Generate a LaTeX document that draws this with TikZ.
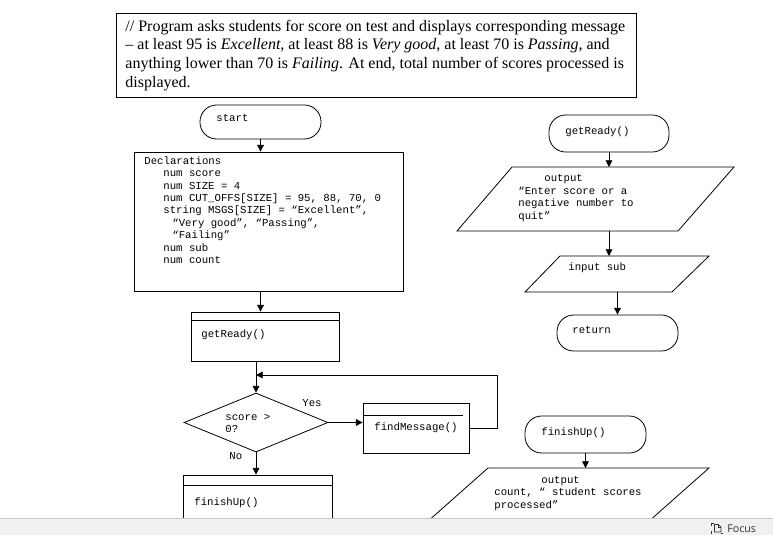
\documentclass[tikz,border=0pt]{standalone}
\usepackage{fontspec}
\setmainfont{Liberation Serif}
\newfontfamily\monof{Liberation Mono}
\newfontfamily\uif{Open Sans}
\usetikzlibrary{arrows.meta,shapes.geometric}
\definecolor{barbg}{HTML}{F0F0F0}
\definecolor{barline}{HTML}{C8C8C8}
\definecolor{uitext}{HTML}{333333}
\newcommand\ia{\hspace*{14.25pt}}
\newcommand\ib{\hspace*{21pt}}
\begin{document}
\begin{tikzpicture}[x=0.75pt,y=-0.75pt,line width=0.6pt,
  arr/.style={-{Triangle[length=5pt,width=5pt]}},
  shp/.style={draw,inner sep=0pt,line width=0.6pt},
  term/.style={shp,rounded corners=12.5pt},
  code/.style={font=\monof\fontsize{8}{9.3}\selectfont,inner sep=0pt,anchor=base west,align=left},
  note/.style={font=\fontsize{12}{14}\selectfont,inner sep=0pt,anchor=base west,align=left}]
\useasboundingbox (0,0) rectangle (773,535);
\fill[white] (0,0) rectangle (773,535);

% header comment (multi-line nodes are anchored at the baseline of their last line)
\node[shp,minimum width=390pt,minimum height=63pt] (hdr) at (376,55) {};
\node[note] (hdrtxt) at (125,87) {// Program asks students for score on test and displays corresponding message\\
– at least 95 is \textit{Excellent}, at least 88 is \textit{Very good}, at least 70 is \textit{Passing}, and\\
anything lower than 70 is \textit{Failing}. At end, total number of scores processed is\\
displayed.};

% main line
\node[term,minimum width=90.75pt,minimum height=25.5pt] (start) at (260.5,122) {};
\node[code] (starttxt) at (216,121.5) {start};

\node[shp,minimum width=201.75pt,minimum height=104.25pt] (decl) at (268.5,221.5) {};
\node[code] (decltxt) at (144,263.5) {Declarations\\
\ia num score\\
\ia num SIZE = 4\\
\ia num CUT\_OFFS[SIZE] = 95, 88, 70, 0\\
\ia string MSGS[SIZE] = “Excellent”,\\
\ib “Very good”, “Passing”,\\
\ib “Failing”\\
\ia num sub\\
\ia num count};

\node[shp,minimum width=111pt,minimum height=36.75pt] (gr) at (265,336.5) {};
\draw ([yshift=-6.75pt]gr.north west) -- ([yshift=-6.75pt]gr.north east);
\node[code] (grtxt) at (201,337.5) {getReady()};

\node[shp,diamond,minimum width=108pt,minimum height=44.25pt] (dia) at (256,422.5) {};
\node[code] (diatxt) at (225,432.5) {score >\\0?};
\node[code] (yes) at (302,406.5) {Yes};
\node[code] (no) at (229,459.5) {No};

\node[shp,minimum width=79.5pt,minimum height=37.5pt] (fm) at (416,428) {};
\draw ([yshift=-9.75pt]fm.north west) -- ([yshift=-9.75pt,xshift=-4.5pt]fm.north east);
\node[code] (fmtxt) at (374,430.5) {findMessage()};

\node[shp,minimum width=111.75pt,minimum height=41.25pt] (fin) at (257.5,502.5) {};
\draw ([yshift=-8.25pt]fin.north west) -- ([yshift=-8.25pt]fin.north east);
\node[code] (fintxt) at (194,505.5) {finishUp()};

\coordinate (loopR) at (497,375);
\coordinate (join) at (dia.north |- loopR);

\draw[arr] (start.south) -- (start.south |- decl.north);
\draw[arr] (start.south |- decl.south) -- (start.south |- gr.north);
\draw[arr] (dia.north |- gr.south) -- (dia.north);
\draw[arr] (fm.east) -| (loopR) -- (join);
\draw[arr] (dia.east) -- (dia.east -| fm.west);
\draw[arr] (dia.south) -- (dia.south |- fin.north);

% getReady module
\node[term,minimum width=90pt,minimum height=27.75pt] (rgr) at (609,133.5) {};
\node[code] (rgrtxt) at (565,134.5) {getReady()};

\coordinate (p1a) at (457,231);
\coordinate (p1b) at (512,167);
\coordinate (p1c) at (734,167);
\coordinate (p1d) at (678,231);
\draw (p1a) -- (p1b) -- (p1c) -- (p1d) -- cycle;
\node[code] (p1txt) at (518,219) {\hspace*{19.5pt}output\\“Enter score or a\\negative number to\\quit”};

\coordinate (p2a) at (525,292);
\coordinate (p2b) at (560,256);
\coordinate (p2c) at (709,256);
\coordinate (p2d) at (672,292);
\draw (p2a) -- (p2b) -- (p2c) -- (p2d) -- cycle;
\node[code] (p2txt) at (568,270.5) {input sub};

\node[term,minimum width=90.75pt,minimum height=27pt] (ret) at (617.5,333) {};
\node[code] (rettxt) at (572,333.5) {return};

\draw[arr] (rgr.south) -- (rgr.south |- p1b);
\draw[arr] (rgr.south |- p1a) -- (rgr.south |- p2b);
\draw[arr] (ret.north |- p2a) -- (ret.north);

% finishUp module
\node[term,minimum width=90.75pt,minimum height=27.75pt] (fu) at (585.5,434.5) {};
\node[code] (futxt) at (541,435.5) {finishUp()};

\coordinate (p3a) at (418,530);
\coordinate (p3b) at (488,468);
\coordinate (p3c) at (709,468);
\coordinate (p3d) at (639,530);
\draw (p3a) -- (p3b) -- (p3c) -- (p3d);
\node[code] (p3txt) at (494,508) {\hspace*{35.25pt}output\\count, “ student scores\\processed”};

\draw[arr] (fu.south) -- (fu.south |- p3b);

% bottom bar
\fill[barbg] (0,518) rectangle (773,535);
\draw[barline,line width=0.75pt] (0,518) -- (773,518);
\begin{scope}[uitext,line width=0.5pt]
\draw (711,525.5) -- (711,523) -- (713.5,523);
\draw (711,531) -- (711,533.5);
\draw (721,533.5) -- (723,533.5);
\draw (714.5,532) -- (714.5,524.5) -- (718.5,524.5) -- (721,527) -- (721,532) -- cycle;
\draw (718.5,524.5) -- (718.5,527) -- (721,527);
\end{scope}
\node[font=\uif\fontsize{8}{9}\selectfont,text=uitext,inner sep=0pt,anchor=base west] (focus) at (727,532) {Focus};
\end{tikzpicture}
\end{document}
